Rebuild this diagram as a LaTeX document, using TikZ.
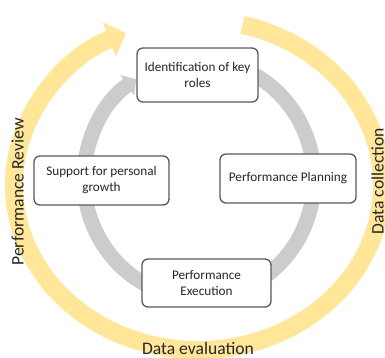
\documentclass[tikz,border=0pt]{standalone}
\usepackage{fontspec}
\setmainfont{Carlito}
\usetikzlibrary{arrows.meta}
\definecolor{ringgold}{RGB}{255,230,153}
\definecolor{ringgray}{RGB}{204,204,204}
\definecolor{boxline}{RGB}{89,89,89}
\definecolor{ink}{RGB}{38,38,38}
\begin{document}
\begin{tikzpicture}[x=1pt,y=1pt,
  stage/.style={draw=boxline, line width=1.3pt, fill=white, rounded corners=6pt,
    align=center, font=\fontsize{13.2}{16}\selectfont, text=ink, inner sep=0pt},
  phase/.style={font=\fontsize{17.6}{20}\selectfont, text=ink, anchor=base, inner sep=0pt}]
\useasboundingbox (0,0) rectangle (385,358);
% outer cycle: review loop
\draw[ringgold, line width=18pt, -{Triangle[length=18pt,width=36pt]}]
  (198,173) ++(76:184 and 165)
  arc[start angle=76, end angle=-247, x radius=184, y radius=165];
% inner cycle: management steps
\draw[ringgray, line width=15pt, -{Triangle[length=11pt,width=24pt]}]
  (199,179) ++(90:115 and 119)
  arc[start angle=90, end angle=-237, x radius=115, y radius=119];
% steps
\node[stage, minimum width=121pt, minimum height=54pt] (roles) at (197.5,283) {Identification of key\\roles};
\node[stage, minimum width=136pt, minimum height=49pt] (plan) at (288,179.5) {Performance Planning};
\node[stage, minimum width=129pt, minimum height=48pt] (exec) at (206.5,75) {Performance\\Execution};
\node[stage, minimum width=135pt, minimum height=49pt] (growth) at (101.5,177.5) {Support for personal\\growth};
% phase labels on the outer ring
\node[phase, rotate=90] (review) at (23.5,166) {Performance Review};
\node[phase, rotate=90] (collect) at (383.5,177) {Data collection};
\node[phase] (evaluate) at (198,3.5) {Data evaluation};
\end{tikzpicture}
\end{document}
